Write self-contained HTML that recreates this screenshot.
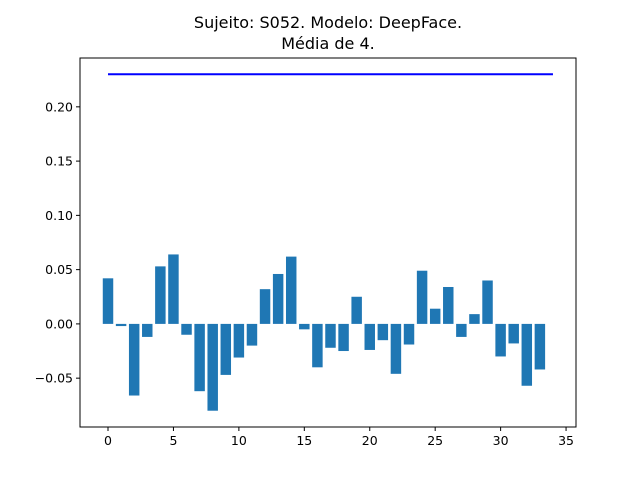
<!DOCTYPE html>
<html><head><meta charset="utf-8"><style>
html,body{margin:0;padding:0;background:#fff;}
svg{display:block;font-family:"DejaVu Sans","Liberation Sans",sans-serif;}
</style></head><body>
<svg id="chart" width="640" height="480" viewBox="0 0 640 480">
<rect width="640" height="480" fill="#fff"/>
<text x="328" y="28" text-anchor="middle" font-size="16">Sujeito: S052. Modelo: DeepFace.</text>
<text x="328" y="49" text-anchor="middle" font-size="16">Média de 4.</text>
<g id="bars"></g>
<g id="xt"></g>
<g id="yt"></g>
<rect x="80" y="58" width="496" height="369" fill="none" stroke="#000" stroke-width="1"/>
</svg>
<script>
const values=[0.042,-0.002,-0.066,-0.012,0.053,0.064,-0.010,-0.062,-0.080,-0.047,-0.031,-0.020,0.032,0.046,0.062,-0.005,-0.040,-0.022,-0.025,0.025,-0.024,-0.015,-0.046,-0.019,0.049,0.014,0.034,-0.012,0.009,0.040,-0.030,-0.018,-0.057,-0.042];
const meanLine=[0.230];
const lineRange=[0,34];
const xTicks=[0,5,10,15,20,25,30,35];
const yTicks=[-0.05,0.00,0.05,0.10,0.15,0.20];
const yLabels=["−0.05","0.00","0.05","0.10","0.15","0.20"];
const NS="http://www.w3.org/2000/svg";
const xMin=-2.14,xMax=35.76,yMin=-0.095,yMax=0.245;
const L=80,R=576,T=58,B=427;
const xs=v=>L+(v-xMin)/(xMax-xMin)*(R-L);
const ys=v=>B-(v-yMin)/(yMax-yMin)*(B-T);
function mk(t,a){const e=document.createElementNS(NS,t);for(const k in a)e.setAttribute(k,a[k]);return e;}
const bars=document.getElementById('bars');
values.forEach((v,i)=>{
  const x0=xs(i-0.4),x1=xs(i+0.4),y0=ys(Math.max(v,0)),y1=ys(Math.min(v,0));
  const r=mk('rect',{x:x0,y:y0,width:x1-x0,height:Math.max(y1-y0,0.5),fill:'#1f77b4'});
  
  
  bars.appendChild(r);
});
const ln=mk('line',{x1:xs(lineRange[0]),x2:xs(lineRange[1]),y1:ys(meanLine[0]),y2:ys(meanLine[0]),stroke:'#0000ff','stroke-width':2});


bars.appendChild(ln);
const xt=document.getElementById('xt');
xTicks.forEach(t=>{
  const x=xs(t);
  xt.appendChild(mk('line',{x1:x,x2:x,y1:B,y2:B+4,stroke:'#000'}));
  const tx=mk('text',{x:x,y:B+18,'text-anchor':'middle','font-size':12.5});
  tx.textContent=t;
  
  
  xt.appendChild(tx);
});
const yt=document.getElementById('yt');
yTicks.forEach((t,i)=>{
  const y=ys(t);
  yt.appendChild(mk('line',{x1:L-4,x2:L,y1:y,y2:y,stroke:'#000'}));
  const tx=mk('text',{x:L-7,y:y+4.5,'text-anchor':'end','font-size':12.5});
  tx.textContent=yLabels[i];
  
  
  yt.appendChild(tx);
});
</script>
</body></html>
